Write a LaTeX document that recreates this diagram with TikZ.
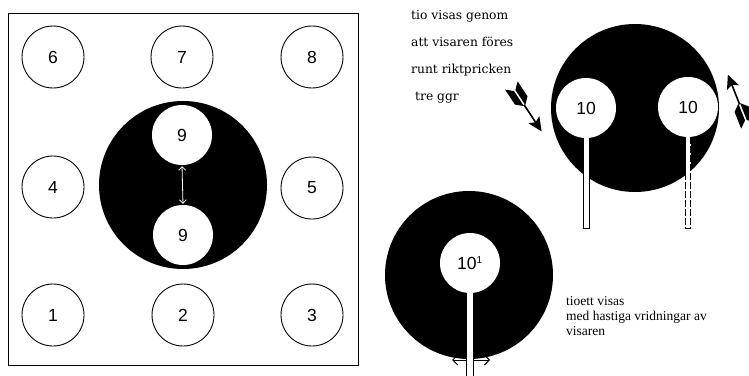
\documentclass[tikz,border=0pt]{standalone}
\usepackage{fontspec}
\setmainfont{Liberation Serif}
\setsansfont{Liberation Sans}
\newfontfamily\notefont{DejaVu Serif}
\usetikzlibrary{arrows.meta}

\tikzset{
  numring/.style={circle, draw, line width=0.9pt, minimum size=62pt, inner sep=0pt,
    font=\sffamily\fontsize{17.5}{17.5}\selectfont},
  target/.style={circle, fill=black, minimum size=168pt, inner sep=0pt},
  spot/.style={circle, fill=white, minimum size=60pt, inner sep=0pt,
    font=\sffamily\fontsize{17.5}{17.5}\selectfont},
  stickbar/.style={fill=white, draw, line width=0.7pt},
  barb/.style={line width=1pt, {Straight Barb[length=5pt,width=10pt]}-{Straight Barb[length=5pt,width=10pt]}},
  fletch/.pic={
    \draw[line width=1.6pt] (20,0) -- (42,0);
    \fill (52,0) -- (38,-6.5) -- (41,0) -- (38,6.5) -- cycle;
    \fill (3,-0.9) -- (21,-0.9) -- (15,-7.5) -- (-3,-7.5) -- cycle;
    \fill (3,0.9) -- (21,0.9) -- (15,7.5) -- (-3,7.5) -- cycle;
  }
}

\begin{document}
\begin{tikzpicture}[x=1pt, y=-1pt]
  \useasboundingbox (0,0) rectangle (749,375);

  % board with the numbered rings
  \node[draw, line width=1pt, minimum width=350pt, minimum height=352pt, inner sep=0pt] (board) at (183,189) {};
  \node[numring] (r6) at (53,57) {6};
  \node[numring] (r7) at (182,57) {7};
  \node[numring] (r8) at (312,57) {8};
  \node[numring] (r4) at (53,187) {4};
  \node[numring] (r5) at (312,188) {5};
  \node[numring] (r1) at (53,315) {1};
  \node[numring] (r2) at (183,315) {2};
  \node[numring] (r3) at (312,315) {3};

  % middle target, nine up and down
  \node[target] (midtarget) at (183,185) {};
  \node[spot] (nineup) at (182,135) {9};
  \node[spot] (ninedown) at (183,235) {9};
  \draw[white, line width=0.8pt, {Straight Barb[length=3.5pt,width=7pt]}-{Straight Barb[length=3.5pt,width=7pt]}, shorten <=1pt, shorten >=1pt] (nineup.south) -- (ninedown.north);

  % ten, shown by going round the spot
  \node[font=\notefont\fontsize{12.3}{27}\selectfont, anchor=north west, align=left, inner sep=0pt] (tiotext) at (411,10)
    {tio visas genom\\att visaren föres\\runt riktpricken\\\hspace*{4pt}tre ggr};
  \node[target] (toptarget) at (635,108) {};
  \coordinate (endA) at (586,228);
  \coordinate (endB) at (688,228);
  \node[spot] (tenA) at (586,108) {10};
  \node[spot] (tenB) at (688,107) {10};
  \draw[stickbar] ([xshift=-3pt]tenA.south) |- ([xshift=3pt]endA) -- ([xshift=3pt]tenA.south);
  \draw[stickbar, dashed, dash pattern=on 7pt off 2pt] ([xshift=-2.5pt]tenB.south) |- ([xshift=2.5pt]endB) -- ([xshift=2.5pt]tenB.south);
  \pic[rotate=-56.6] at (513,88) {fletch};
  \pic[rotate=111.6] at (747,123) {fletch};

  % ten-one, shown by quick turns
  \node[target] (lowtarget) at (469,275) {};
  \node[spot] (tenC) at (470,263) {10\textsuperscript{\fontsize{10}{10}\selectfont 1}};
  \coordinate (swingL) at (452,360);
  \coordinate (swingR) at (490,360);
  \coordinate (endC) at (470,380);
  \draw[barb] (swingL) -- (swingR);
  \draw[stickbar] ([xshift=-3.5pt]tenC.south) -- ([xshift=-3.5pt]endC) -- ([xshift=3.5pt]endC) -- ([xshift=3.5pt]tenC.south);
  \node[font=\fontsize{13.5}{15}\selectfont, anchor=north west, align=left, inner sep=0pt] (tioetttext) at (566,296)
    {tioett visas\\med hastiga vridningar av\\visaren};
\end{tikzpicture}
\end{document}
